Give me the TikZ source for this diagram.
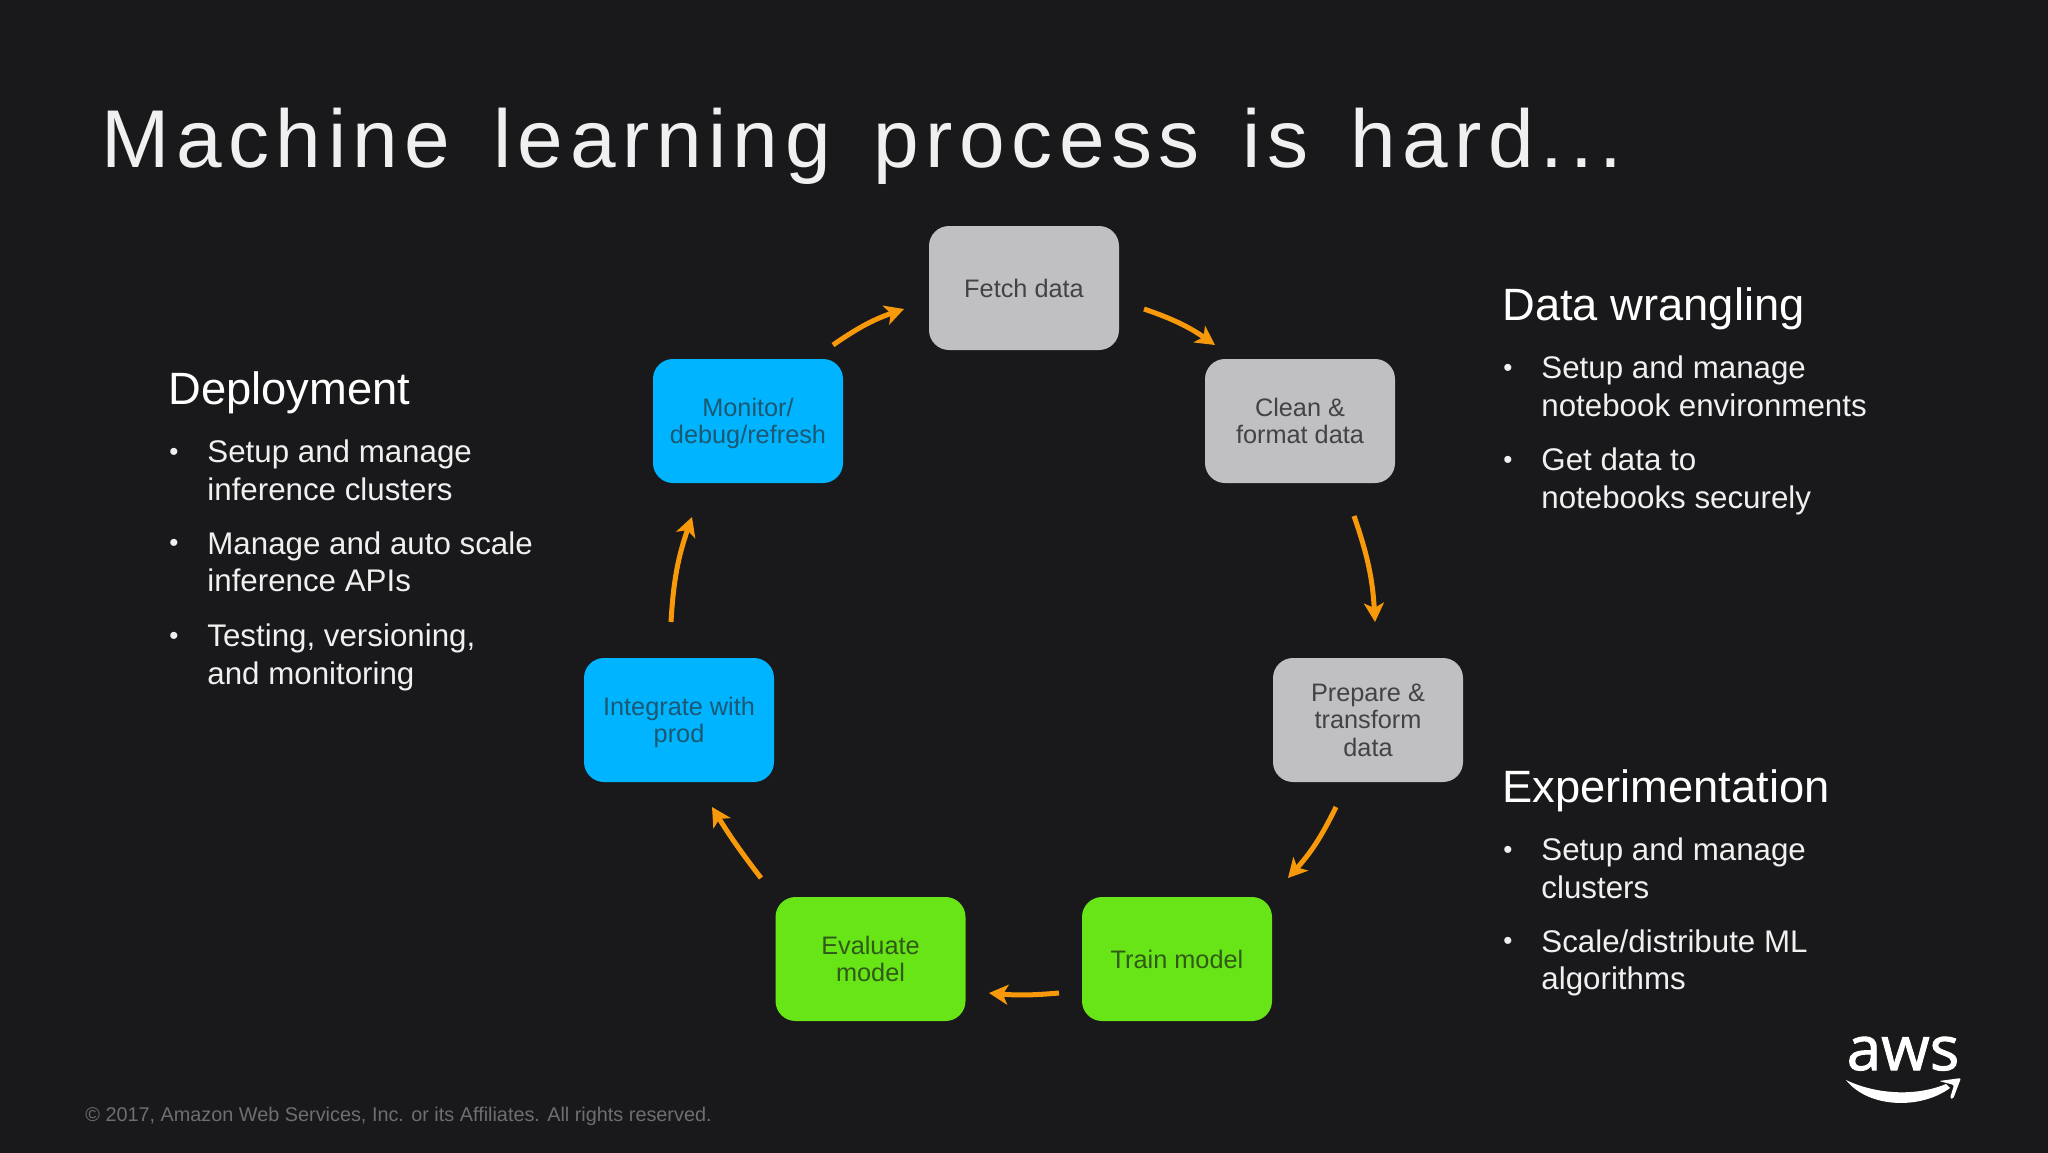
\documentclass[tikz,border=0pt]{standalone}
\usepackage{fontspec}
\usepackage{xcolor}
\usetikzlibrary{arrows.meta}
\setmainfont{Liberation Sans}
\newfontfamily\slidetitlefont[LetterSpace=8,WordSpace=1.45]{Liberation Sans}
\newfontfamily\logofont[FakeStretch=1.02,FakeBold=1.6]{Open Sans}
\definecolor{slidebg}{HTML}{19191B}
\definecolor{greybox}{HTML}{C0BFC1}
\definecolor{bluebox}{HTML}{00B4FF}
\definecolor{greenbox}{HTML}{67E516}
\definecolor{greytext}{HTML}{434345}
\definecolor{bluetext}{HTML}{1C5872}
\definecolor{greentext}{HTML}{2F5A18}
\definecolor{flowcolor}{HTML}{F7990A}
\definecolor{copytext}{HTML}{6E6E70}
\tikzset{
	stagebox/.style={rounded corners=10pt,minimum width=95pt,minimum height=62pt,inner sep=0pt,align=center,text depth=0pt,font=\fontsize{12.65}{13.7}\selectfont},
	greystage/.style={stagebox,fill=greybox,text=greytext},
	bluestage/.style={stagebox,fill=bluebox,text=bluetext},
	greenstage/.style={stagebox,fill=greenbox,text=greentext},
	flow/.style={draw=flowcolor,line width=2.5pt,-{Stealth[length=9.5pt,width=10pt,inset=2.5pt]}},
	heading/.style={anchor=base west,inner sep=0pt,text=white,font=\fontsize{22.65}{27}\selectfont},
	item/.style={anchor=base west,inner sep=0pt,text=white!94!black,align=left,font=\fontsize{15.65}{18.7}\selectfont},
	itemdot/.style={anchor=base,inner sep=0pt,text=white!94!black,font=\fontsize{13}{16}\selectfont},
}
\begin{document}
\begin{tikzpicture}[x=0.5pt,y=-0.5pt]
	\useasboundingbox (0,0) rectangle (2048,1152);
	\fill[slidebg] (-4,-4) rectangle (2052,1156);

	\node (title) at (101,167) [anchor=base west,inner sep=0pt,text=white!94!black,font=\slidetitlefont\fontsize{41}{50}\selectfont] {Machine learning process is hard...};

	\node (fetch) at (1024,288) [greystage] {Fetch data};
	\node (clean) at (1300,421) [greystage] {Clean \&\\format data};
	\node (prepare) at (1368,720) [greystage] {Prepare \&\\transform\\data};
	\node (train) at (1177,959) [greenstage] {Train model};
	\node (evaluate) at (870.5,959) [greenstage] {Evaluate\\model};
	\node (integrate) at (679,720) [bluestage] {Integrate with\\prod};
	\node (monitor) at (748,421) [bluestage] {Monitor/\\debug/refresh};

	\coordinate (f1) at (1144,309);
	\coordinate (f2) at (1215,345);
	\coordinate (c1) at (1354,516);
	\coordinate (c2) at (1375,622);
	\coordinate (p1) at (1336,807);
	\coordinate (p2) at (1288,878);
	\coordinate (t1) at (1059,993);
	\coordinate (t2) at (989,993);
	\coordinate (e1) at (761,878);
	\coordinate (e2) at (712,807);
	\coordinate (i1) at (671,622);
	\coordinate (i2) at (692,517);
	\coordinate (m1) at (833,345);
	\coordinate (m2) at (904,309);

	\draw[flow] (f1) to[bend left=8] (f2);
	\draw[flow] (c1) to[bend left=8] (c2);
	\draw[flow] (p1) to[bend left=8] (p2);
	\draw[flow] (t1) to[bend left=5] (t2);
	\draw[flow] (e1) to[bend left=3] (e2);
	\draw[flow] (i1) to[bend left=8] (i2);
	\draw[flow] (m1) to[bend left=8] (m2);

	\node (deploy) at (168,404) [heading] {Deployment};
	\node (dot1) at (174,460) [itemdot] {•};
	\node (item1) at (207,500) [item] {Setup and manage\\inference clusters};
	\node (dot2) at (174,551) [itemdot] {•};
	\node (item2) at (207,591.5) [item] {Manage and auto scale\\inference APIs};
	\node (dot3) at (174,644) [itemdot] {•};
	\node (item3) at (207,684) [item] {Testing, versioning,\\and monitoring};

	\node (wrangle) at (1502,320) [heading] {Data wrangling};
	\node (dot4) at (1508,376) [itemdot] {•};
	\node (item4) at (1541,416) [item] {Setup and manage\\notebook environments};
	\node (dot5) at (1508,468) [itemdot] {•};
	\node (item5) at (1541,508) [item] {Get data to\\notebooks securely};

	\node (experiment) at (1502,802) [heading] {Experimentation};
	\node (dot6) at (1508,858) [itemdot] {•};
	\node (item6) at (1541,898) [item] {Setup and manage\\clusters};
	\node (dot7) at (1508,949) [itemdot] {•};
	\node (item7) at (1541,989.5) [item] {Scale/distribute ML\\algorithms};

	\node (copyright) at (85,1121) [anchor=base west,inner sep=0pt,text=copytext,font=\fontsize{9.92}{12}\selectfont] {© 2017, Amazon Web Services, Inc. or its Affiliates. All rights reserved.};

	\node (logo) at (1903,1070) [anchor=base,inner sep=0pt,text=white,font=\logofont\fontsize{30.5}{36}\selectfont] {aws};
	\fill[white] (1846,1080) .. controls (1875,1094) and (1915,1097) .. (1946,1084) -- (1950,1088) .. controls (1920,1110) and (1868,1108) .. (1846,1080) -- cycle;
	\fill[white,rounded corners=1pt] (1939,1081) -- (1961,1078) -- (1953,1099) -- (1950,1098) -- (1954,1085) -- cycle;
\end{tikzpicture}
\end{document}
